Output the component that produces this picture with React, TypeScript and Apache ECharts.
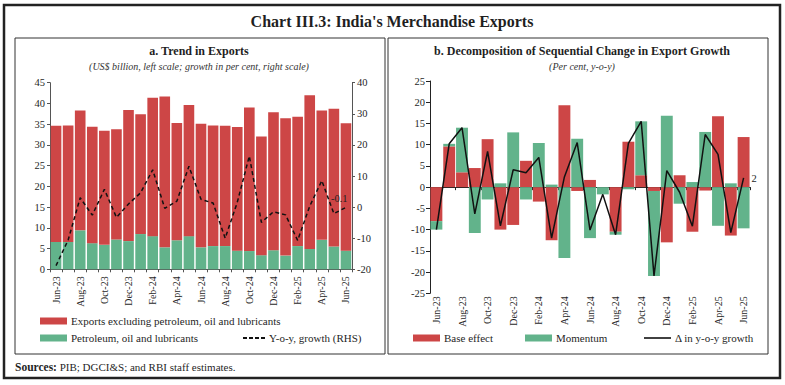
import React, { useEffect, useRef } from 'react';
import * as echarts from 'echarts';

const months = ['Jun-23','Jul-23','Aug-23','Sep-23','Oct-23','Nov-23','Dec-23','Jan-24','Feb-24','Mar-24','Apr-24','May-24','Jun-24','Jul-24','Aug-24','Sep-24','Oct-24','Nov-24','Dec-24','Jan-25','Feb-25','Mar-25','Apr-25','May-25','Jun-25'];

// US$ billion
const nonPolExports = [28.0, 28.1, 28.9, 28.1, 27.5, 26.6, 31.6, 28.9, 33.4, 36.4, 28.3, 31.6, 29.8, 29.1, 29.0, 29.8, 34.6, 28.6, 33.3, 33.1, 31.2, 37.1, 31.2, 33.2, 30.7];
const polExports = [6.6, 6.6, 9.4, 6.3, 5.9, 7.2, 6.8, 8.5, 8.0, 5.3, 7.0, 8.0, 5.3, 5.6, 5.6, 4.5, 4.4, 3.4, 4.6, 3.3, 5.6, 4.9, 7.1, 5.5, 4.5];
// per cent, y-o-y
const yoyGrowth = [-18.8, -10.6, 3.0, -2.6, 5.7, -3.3, 1.0, 4.6, 12.0, -0.4, 1.9, 13.1, 2.5, 1.3, -10.0, 1.5, 16.4, -4.9, -1.5, -2.5, -10.7, 0.3, 8.5, -2.1, -0.1];

// decomposition, per cent
const baseEffect = [-8.0, 9.6, 3.5, 4.5, 11.3, -10.0, -8.9, 6.2, -3.4, -12.5, 19.3, -0.9, 1.7, 0, -10.5, 10.7, 2.8, -0.9, -13.0, 2.8, -10.5, -0.8, 16.7, -11.4, 11.8];
const momentum = [-2.0, 0.6, 10.5, -10.8, -2.9, 0.9, 12.9, -2.9, 10.4, 0.6, -16.7, 11.4, -12.0, -1.7, -0.7, -0.5, 12.7, -20.0, 16.8, -3.9, 1.2, 13.0, -9.1, 0.9, -9.7];
const deltaGrowth = [-10.0, 10.2, 14.0, -6.3, 8.4, -9.1, 4.1, 3.4, 7.0, -12.0, 2.4, 10.5, -10.1, -1.7, -11.2, 10.3, 15.5, -20.9, 3.9, -1.2, -9.2, 12.4, 7.7, -10.7, 2.2];

const FONT = '"Liberation Serif", "Times New Roman", serif';
const RED = '#cd4646';
const GREEN = '#62b38b';
const TXT = '#1f1f1f';
const AX = '#555';

const N1 = 'Exports excluding petroleum, oil and lubricants';
const N2 = 'Petroleum, oil and lubricants';
const N3 = 'Y-o-y, growth (RHS)';
const N4 = 'Base effect';
const N5 = 'Momentum';
const N6 = '\u0394 in y-o-y growth';

const DASH_ICON = 'path://M0,0h4v2h-4z M6,0h4v2h-4z M12,0h4v2h-4z M18,0h4v2h-4z';

function legend(name: string, left: number, top: number, opts: any = {}) {
  return {
    data: [name], left, top, padding: 0, selectedMode: false,
    itemWidth: 27, itemHeight: 7, icon: 'rect',
    textStyle: { fontFamily: FONT, fontSize: 11, color: TXT, padding: [0, 0, 0, -1] },
    ...opts,
  };
}

export default function App() {
  const ref = useRef<HTMLDivElement>(null);
  useEffect(() => {
    if (!ref.current) return;
    const chart = echarts.init(ref.current, undefined, { renderer: 'svg' });
    const option: any = {
      animation: false,
      backgroundColor: '#fff',
      textStyle: { fontFamily: FONT },
      title: [
        {
          text: '{b|Sources:} PIB; DGCI&S; and RBI staff estimates.',
          left: 15, top: 361, padding: 0,
          textStyle: {
            fontFamily: FONT, fontSize: 11, fontWeight: 'normal', color: TXT,
            rich: { b: { fontFamily: FONT, fontSize: 11.5, fontWeight: 'bold', color: TXT } },
          },
        },
      ],
      graphic: [
        { type: 'rect', shape: { x: 4, y: 5, width: 776, height: 373 }, style: { fill: 'none', stroke: '#222', lineWidth: 2.5 }, silent: true },
        { type: 'rect', shape: { x: 15, y: 38, width: 370, height: 316 }, style: { fill: 'none', stroke: '#333', lineWidth: 1 }, silent: true },
        { type: 'rect', shape: { x: 388, y: 38, width: 380, height: 316 }, style: { fill: 'none', stroke: '#333', lineWidth: 1 }, silent: true },
        { type: 'text', x: 392, y: 21, style: { text: "Chart III.3: India's Merchandise Exports", font: `bold 16px ${FONT}`, fill: TXT, textAlign: 'center', textVerticalAlign: 'middle' } },
        { type: 'text', x: 199, y: 51, style: { text: 'a. Trend in Exports', font: `bold 12px ${FONT}`, fill: TXT, textAlign: 'center', textVerticalAlign: 'middle' } },
        { type: 'text', x: 199, y: 66, style: { text: '(US$ billion, left scale; growth in per cent, right scale)', font: `italic 10px ${FONT}`, fill: '#333', textAlign: 'center', textVerticalAlign: 'middle' } },
        { type: 'text', x: 582, y: 51, style: { text: 'b. Decomposition of Sequential Change in Export Growth', font: `bold 12px ${FONT}`, fill: TXT, textAlign: 'center', textVerticalAlign: 'middle' } },
        { type: 'text', x: 582, y: 66, style: { text: '(Per cent, y-o-y)', font: `italic 10px ${FONT}`, fill: '#333', textAlign: 'center', textVerticalAlign: 'middle' } },
      ],
      legend: [
        legend(N1, 40, 315.5),
        legend(N2, 40, 332.5),
        legend(N3, 243, 332.5, { icon: DASH_ICON, itemWidth: 22, itemHeight: 2 }),
        legend(N4, 413, 332.5),
        legend(N5, 525, 332.5),
        legend(N6, 644, 332.5, { itemWidth: 27, itemHeight: 1.6 }),
      ],
      grid: [
        { left: 50, top: 82.7, width: 302, height: 186.6 },
        { left: 430, top: 81, width: 320, height: 212.3 },
      ],
      xAxis: [
        {
          type: 'category', gridIndex: 0, data: months, boundaryGap: true,
          axisLine: { show: true, lineStyle: { color: AX, width: 1 } },
          axisTick: { show: true, interval: 0, length: 3, lineStyle: { color: AX } },
          axisLabel: { interval: 1, rotate: 90, fontSize: 10, margin: 7, color: TXT, fontFamily: FONT },
        },
        {
          type: 'category', gridIndex: 1, data: months, boundaryGap: true, position: 'bottom',
          axisLine: { show: false, onZero: false },
          axisTick: { show: false },
          axisLabel: { interval: 1, rotate: 90, fontSize: 10, margin: 3, color: TXT, fontFamily: FONT },
        },
        {
          type: 'category', gridIndex: 1, data: months, boundaryGap: true, position: 'bottom',
          axisLine: { show: true, onZero: true, lineStyle: { color: '#222', width: 1.2 } },
          axisTick: { show: true, interval: 1, length: 3, lineStyle: { color: '#222' } },
          axisLabel: { show: false },
        },
      ],
      yAxis: [
        {
          type: 'value', gridIndex: 0, min: 0, max: 45, interval: 5,
          axisLine: { show: true, lineStyle: { color: AX } },
          axisTick: { show: true, length: 3, lineStyle: { color: AX } },
          splitLine: { show: false },
          axisLabel: { fontSize: 10.5, margin: 5, color: TXT, fontFamily: FONT },
        },
        {
          type: 'value', gridIndex: 0, position: 'right', min: -20, max: 40, interval: 10,
          axisLine: { show: true, lineStyle: { color: AX } },
          axisTick: { show: true, length: 3, lineStyle: { color: AX } },
          splitLine: { show: false },
          axisLabel: { fontSize: 10.5, margin: 5, color: TXT, fontFamily: FONT },
        },
        {
          type: 'value', gridIndex: 1, min: -25, max: 25, interval: 5,
          axisLine: { show: true, lineStyle: { color: '#222' } },
          axisTick: { show: true, length: 4, lineStyle: { color: '#222' } },
          splitLine: { show: false },
          axisLabel: { fontSize: 10.5, margin: 5, color: TXT, fontFamily: FONT },
        },
      ],
      series: [
        {
          name: N2, type: 'bar', stack: 'exp', xAxisIndex: 0, yAxisIndex: 0,
          data: polExports, itemStyle: { color: GREEN }, barCategoryGap: '12%',
        },
        {
          name: N1, type: 'bar', stack: 'exp', xAxisIndex: 0, yAxisIndex: 0,
          data: nonPolExports, itemStyle: { color: RED }, barCategoryGap: '12%',
        },
        {
          name: N3, type: 'line', xAxisIndex: 0, yAxisIndex: 1, symbol: 'none',
          lineStyle: { color: '#111', width: 1.5, type: [4, 3] }, itemStyle: { color: '#111' },
          z: 5,
          data: yoyGrowth,
          endLabel: {
            show: true, distance: 5, offset: [-20, -9],
            formatter: (p: any) => Number(p.value).toFixed(1),
            fontSize: 10.5, color: TXT, fontFamily: FONT,
          },
        },
        {
          name: N4, type: 'bar', stack: 'dec', xAxisIndex: 2, yAxisIndex: 2,
          data: baseEffect, itemStyle: { color: RED }, barCategoryGap: '7%',
        },
        {
          name: N5, type: 'bar', stack: 'dec', xAxisIndex: 2, yAxisIndex: 2,
          data: momentum, itemStyle: { color: GREEN }, barCategoryGap: '7%',
        },
        {
          name: N6, type: 'line', xAxisIndex: 2, yAxisIndex: 2, symbol: 'none',
          lineStyle: { color: '#111', width: 1.5 }, itemStyle: { color: '#111' },
          z: 5,
          data: deltaGrowth,
          endLabel: {
            show: true, distance: 4, offset: [4, 1],
            formatter: (p: any) => String(Math.round(Number(p.value))),
            fontSize: 10.5, color: TXT, fontFamily: FONT,
          },
        },
      ],
    };
    chart.setOption(option);
    return () => chart.dispose();
  }, []);
  return <div ref={ref} style={{ position: 'absolute', left: 0, top: 0, width: 785, height: 385, background: '#fff' }} />;
}
